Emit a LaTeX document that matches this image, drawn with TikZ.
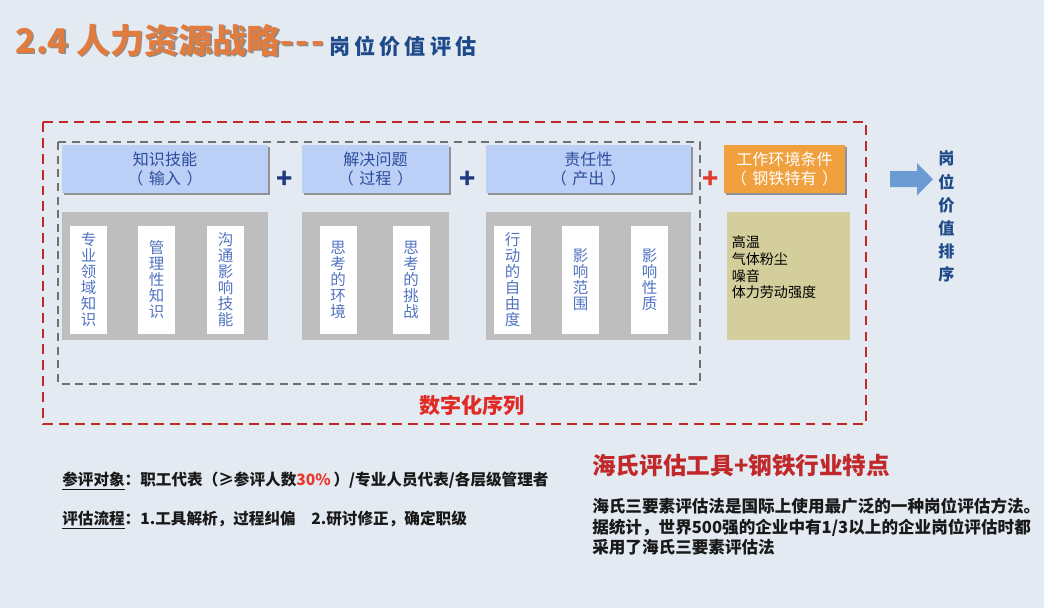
\documentclass[tikz,border=0pt]{standalone}
\usepackage{fontspec}
\setmainfont{Noto Sans CJK SC}
\usetikzlibrary{shadows}

\definecolor{bgblue}{HTML}{E4EAF2}
\definecolor{headblue}{HTML}{BBCFF7}
\definecolor{headtext}{HTML}{2C4D9C}
\definecolor{striptext}{HTML}{5274C2}
\definecolor{boxgray}{HTML}{BEBEBE}
\definecolor{envorange}{HTML}{F0A03C}
\definecolor{envkhaki}{HTML}{D3CE9B}
\definecolor{dashred}{HTML}{C0282A}
\definecolor{dashgray}{HTML}{707070}
\definecolor{titleorange}{HTML}{E27C3E}
\definecolor{titleblue}{HTML}{1F4A8A}
\definecolor{arrowblue}{HTML}{6B9BD2}
\definecolor{plusblue}{HTML}{1F3A80}
\definecolor{plusred}{HTML}{E23A2E}
\definecolor{seqred}{HTML}{E02A25}
\definecolor{pcred}{HTML}{E8372C}

\newcommand\parsp{\hspace{4pt}}

\begin{document}
\begin{tikzpicture}[x=0.025cm,y=-0.025cm,
  headbox/.style={fill=headblue,text=headtext,align=center,inner sep=0pt,
    minimum height=1.2cm,font=\fontsize{11.4pt}{13.2pt}\selectfont,
    drop shadow={shadow xshift=1.6pt,shadow yshift=-1.6pt,opacity=.55,fill=black!70}},
  graybox/.style={fill=boxgray,inner sep=0pt,minimum height=3.2cm},
  stripbox/.style={fill=white,text=striptext,align=center,inner sep=0pt,
    minimum width=0.925cm,minimum height=2.7cm,
    font=\fontsize{11pt}{11.4pt}\selectfont},
  plus/.style={font=\fontsize{19pt}{19pt}\selectfont\bfseries,inner sep=0pt},
  boldtext/.style={font=\fontsize{11.1pt}{14.6pt}\selectfont\bfseries,inner sep=0pt,text=black!90}
]
\useasboundingbox (0,0) rectangle (1044,608);
\fill[bgblue] (0,0) rectangle (1044,608);

% title
\node[anchor=base west,inner sep=0pt,text=black!45,font=\fontsize{24.2pt}{24.2pt}\selectfont\bfseries]
  (titleshadow) at (16.5,54.5) {2.4 人力资源战略{-}\kern1.6pt{-}\kern1.6pt{-}};
\node[anchor=base west,inner sep=0pt,text=titleorange,font=\fontsize{24.2pt}{24.2pt}\selectfont\bfseries]
  (title) at (15,53) {2.4 人力资源战略{-}\kern1.6pt{-}\kern1.6pt{-}};
\node[anchor=base west,inner sep=0pt,text=titleblue,font=\fontsize{15pt}{15pt}\selectfont\bfseries]
  (subtitle) at ([xshift=3pt,yshift=-1.2pt]title.base east)
  {岗\hspace{3pt}位\hspace{3pt}价\hspace{3pt}值\hspace{3pt}评\hspace{3pt}估};

% dashed frames
\draw[dashred,line width=1.8pt,dash pattern=on 7pt off 4.3pt] (43,122) rectangle (866,424);
\draw[dashgray,line width=1.5pt,dash pattern=on 5.7pt off 4pt] (58,142) rectangle (700,384);

% header boxes
\node[headbox,minimum width=5.15cm]  (knw) at (165,169)   {知识技能\\（\parsp 输入\parsp ）};
\node[headbox,minimum width=3.675cm] (prb) at (375.5,169) {解决问题\\（\parsp 过程\parsp ）};
\node[headbox,minimum width=5.125cm] (rsp) at (588.5,169) {责任性\\（\parsp 产出\parsp ）};
\node[headbox,minimum width=3.025cm,fill=envorange,text=white] (env) at (784.5,169) {工作环境条件\\（\parsp 钢铁特有\parsp ）};

\node[plus,text=plusblue] (p1) at (285,180) {+};
\node[plus,text=plusblue] (p2) at (468,180) {+};
\node[plus,text=plusred]  (p3) at (711,180) {+};

% factor boxes
\node[graybox,minimum width=5.15cm]  (knwbox) at (165,276)   {};
\node[graybox,minimum width=3.675cm] (prbbox) at (375.5,276) {};
\node[graybox,minimum width=5.125cm] (rspbox) at (588.5,276) {};
\node[graybox,minimum width=3.075cm,fill=envkhaki] (envbox) at (788.5,276) {};

\foreach \sx/\st [count=\i] in {88.5/{专\\业\\领\\域\\知\\识},156.5/{管\\理\\性\\知\\识},225.5/{沟\\通\\影\\响\\技\\能},
    338/{思\\考\\的\\环\\境},411/{思\\考\\的\\挑\\战},
    512.5/{行\\动\\的\\自\\由\\度},580.5/{影\\响\\范\\围},649.5/{影\\响\\性\\质}}
  \node[stripbox] (strip\i) at (\sx,280) {\st};

\node[anchor=north west,align=left,inner sep=0pt,font=\fontsize{10pt}{11.9pt}\selectfont]
  (envlist) at (731.5,235.5) {高温\\气体粉尘\\噪音\\体力劳动强度};

\node[text=seqred,inner sep=0pt,font=\fontsize{15pt}{15pt}\selectfont\bfseries] (seq) at (472,405) {数字化序列};

% result
\fill[arrowblue] (890,171) -- (917,171) -- (917,163) -- (933,179.3) -- (917,195.5) -- (917,187) -- (890,187) -- cycle;
\node[text=titleblue,align=center,inner sep=0pt,font=\fontsize{11.5pt}{16.4pt}\selectfont\bfseries]
  (rank) at (946.5,216.5) {岗\\位\\价\\值\\排\\序};

% notes
\node[boldtext,anchor=west] (who) at (62,481)
  {\underline{参评对象}：职工代表（≥参评人数\textcolor{pcred}{30\%}\hspace{2pt}）/专业人员代表/各层级管理者};
\node[boldtext,anchor=west] (how) at (62,520)
  {\underline{评估流程}：1.工具解析，过程纠偏\quad 2.研讨修正，确定职级};

\node[anchor=west,inner sep=0pt,text=dashred,font=\fontsize{16.8pt}{16.8pt}\selectfont\bfseries]
  (hay) at (592,465.5) {海氏评估工具+钢铁行业特点};
\node[boldtext,anchor=north west,align=left,font=\fontsize{11.8pt}{14.6pt}\selectfont\bfseries] (haytext) at (592,498)
  {海氏三要素评估法是国际上使用最广泛的一种岗位评估方法。\\
   据统计，世界500强的企业中有1/3以上的企业岗位评估时都\\
   采用了海氏三要素评估法};
\end{tikzpicture}
\end{document}
